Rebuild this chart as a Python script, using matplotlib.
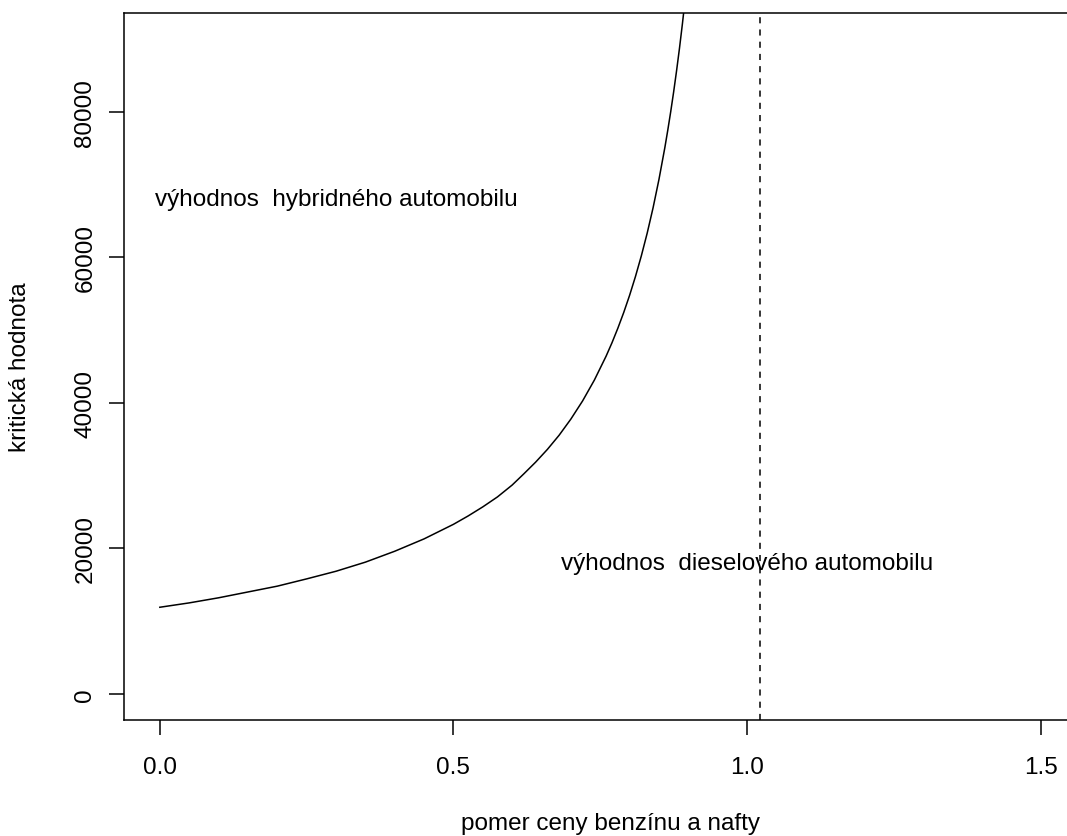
import matplotlib.pyplot as plt

plt.rcParams['font.family'] = ['Liberation Sans', 'DejaVu Sans']
plt.rcParams['font.size'] = 17.5

# pomer cien benzínu a nafty a kritická hodnota (odčítané body krivky)
ratio = [0.0, 0.05, 0.10, 0.15, 0.20, 0.25, 0.30, 0.35, 0.40, 0.45, 0.50,
         0.525, 0.55, 0.575, 0.60, 0.62, 0.64, 0.66, 0.68, 0.70, 0.72,
         0.74, 0.76, 0.77, 0.78, 0.79, 0.80, 0.81, 0.82, 0.83, 0.84, 0.85,
         0.86, 0.865, 0.87, 0.875, 0.88, 0.885, 0.89, 0.895]
critical = [11900, 12500, 13200, 14000, 14800, 15800, 16850, 18100, 19600,
            21300, 23300, 24450, 25700, 27070, 28700, 30250, 31850, 33600,
            35550, 37770, 40270, 43130, 46420, 48260, 50260, 52420, 54780,
            57370, 60210, 63340, 66820, 70710, 75070, 77470, 80010, 82730,
            85650, 88770, 92140, 95760]

breakeven = 1.022
xticks = [0.0, 0.5, 1.0, 1.5]
yticks = [0, 20000, 40000, 60000, 80000]

text_hybrid = 'výhodnos  hybridného automobilu'
text_diesel = 'výhodnos  dieselového automobilu'

fig = plt.figure(figsize=(10.67, 8.37), dpi=100)
# os x presahuje pravý okraj obrázka
ax = fig.add_axes([124 / 1067, 1 - 721 / 837, 973 / 1067, 707 / 837])

ax.plot(ratio, critical, color='black', linewidth=1.1)
ax.axvline(breakeven, color='black', linewidth=1.1, linestyle=(0, (4, 4)))

ax.text(0.3, 68000, text_hybrid, ha='center', va='center')
ax.text(1.0, 18000, text_diesel, ha='center', va='center')

ax.set_xlim(-0.061, 1.596)
ax.set_ylim(-3600, 93600)
ax.set_xticks(xticks)
ax.set_xticklabels(['0.0', '0.5', '1.0', '1.5'])
ax.set_yticks(yticks)
ax.set_yticklabels([str(v) for v in yticks])

ax.tick_params(direction='out', length=10.8, width=1.1, color='black')
ax.tick_params(axis='x', pad=15)
ax.tick_params(axis='y', pad=9, labelrotation=90)
for lab in ax.get_yticklabels():
    lab.set_va('center')

for sp in ax.spines.values():
    sp.set_linewidth(1.1)
ax.spines['right'].set_visible(False)

ax.set_xlabel('pomer ceny benzínu a nafty')
ax.xaxis.label.set_va('center')
ax.xaxis.set_label_coords(0.5, -(824 - 721) / 707)
ax.set_ylabel('kritická hodnota')
ax.yaxis.label.set_va('center')
ax.yaxis.set_label_coords(-(124 - 20) / 973, 0.5)

fig.savefig('out.png', dpi=100)
